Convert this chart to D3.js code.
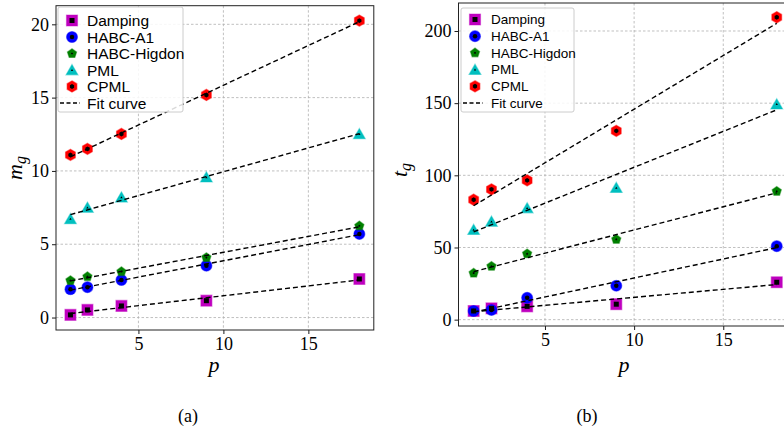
<!DOCTYPE html>
<html>
<head>
<meta charset="utf-8">
<script src="https://cdn.jsdelivr.net/npm/d3@7"></script>
<style>
body { margin: 0; background: #fff; }
svg { font-family: 'Liberation Serif'; }
</style>
</head>
<body>
<svg width="784" height="430"></svg>
<script>
// data
var pValues = [1, 2, 4, 9, 18];
var seriesNames = ["Damping", "HABC-A1", "HABC-Higdon", "PML", "CPML"];

var mgDamping = [0.18, 0.52, 0.79, 1.15, 2.63];
var mgHabcA1 = [1.93, 2.07, 2.56, 3.54, 5.70];
var mgHigdon = [2.52, 2.79, 3.13, 4.09, 6.25];
var mgPml = [6.73, 7.50, 8.20, 9.57, 12.52];
var mgCpml = [11.09, 11.50, 12.52, 15.18, 20.25];

var tgDamping = [6.0, 7.8, 9.2, 10.7, 25.9];
var tgHabcA1 = [6.0, 6.7, 15.1, 23.5, 50.9];
var tgHigdon = [32.2, 37.0, 45.6, 55.6, 88.9];
var tgPml = [62.3, 68.0, 77.3, 91.4, 149.3];
var tgCpml = [83.1, 90.3, 96.5, 130.8, 209.5];

var xTicks = [5, 10, 15];
var mgTicks = [0, 5, 10, 15, 20];
var tgTicks = [0, 50, 100, 150, 200];

var svg = d3.select("svg");

// marker styles per series
var styles = [
  {color: "#bf00bf", shape: "square", outer: 11, inner: 5},
  {color: "#0000ff", shape: "circle", outer: 11, inner: 4.5},
  {color: "#008000", shape: "pentagon", outer: 9, inner: 2},
  {color: "#00bfbf", shape: "triangle", outer: 13, inner: 2.5},
  {color: "#ff0000", shape: "hexagon", outer: 10.5, inner: 4.5}
];

function shapePath(shape, size) {
  var r = size / 2;
  if (shape == "square") return "M" + (-r) + "," + (-r) + "h" + size + "v" + size + "h" + (-size) + "Z";
  if (shape == "circle") return d3.arc()({innerRadius: 0, outerRadius: r, startAngle: 0, endAngle: 2 * Math.PI});
  var n = {pentagon: 5, triangle: 3, hexagon: 6}[shape];
  var rr = shape == "triangle" ? r * 1.05 : r * 1.08;
  var pts = d3.range(n).map(function(i) {
    var a = -Math.PI / 2 + i * 2 * Math.PI / n;
    return [rr * Math.cos(a), rr * Math.sin(a) + (shape == "triangle" ? rr * 0.2 : 0)];
  });
  return "M" + pts.join("L") + "Z";
}

function linFit(xs, ys) {
  var mx = d3.mean(xs), my = d3.mean(ys);
  var sxy = d3.sum(xs, function(x, i) { return (x - mx) * (ys[i] - my); });
  var sxx = d3.sum(xs, function(x) { return (x - mx) * (x - mx); });
  var b = sxy / sxx;
  return function(x) { return my + b * (x - mx); };
}

function serifText(sel, size) {
  return sel.attr("font-family", "Liberation Serif").attr("font-size", size);
}

function drawPanel(cfg) {
  var x = d3.scaleLinear().domain([0.15, 18.85]).range([cfg.left, cfg.right]);
  var y = d3.scaleLinear().domain(cfg.yDomain).range([cfg.bottom, cfg.top]);
  var g = svg.append("g");

  // grid
  g.selectAll(".gx").data(xTicks).enter().append("line")
    .attr("x1", d => x(d)).attr("x2", d => x(d))
    .attr("y1", cfg.top).attr("y2", cfg.bottom)
    .attr("stroke", "#b0b0b0").attr("stroke-width", 0.8).attr("stroke-dasharray", "2.5,2");
  g.selectAll(".gy").data(cfg.yTicks).enter().append("line")
    .attr("x1", cfg.left).attr("x2", cfg.right)
    .attr("y1", d => y(d)).attr("y2", d => y(d))
    .attr("stroke", "#b0b0b0").attr("stroke-width", 0.8).attr("stroke-dasharray", "2.5,2");

  // axes
  var xAxis = g.append("g").attr("transform", "translate(0," + cfg.bottom + ")")
    .call(d3.axisBottom(x).tickValues(xTicks).tickSize(4).tickPadding(3).tickFormat(d3.format("d")));
  var yAxis = g.append("g").attr("transform", "translate(" + cfg.left + ",0)")
    .call(d3.axisLeft(y).tickValues(cfg.yTicks).tickSize(4).tickPadding(3).tickFormat(d3.format("d")));
  [xAxis, yAxis].forEach(function(a) {
    a.attr("font-family", "Liberation Serif").attr("font-size", 18);
    a.select(".domain").remove();
    a.selectAll("text").attr("fill", "#000");
    a.selectAll("line").attr("stroke", "#000").attr("stroke-width", 0.9);
  });

  // frame
  g.append("rect").attr("x", cfg.left).attr("y", cfg.top)
    .attr("width", cfg.right - cfg.left).attr("height", cfg.bottom - cfg.top)
    .attr("fill", "none").attr("stroke", "#222").attr("stroke-width", 1);

  // markers and fits
  cfg.series.forEach(function(vals, si) {
    var st = styles[si];
    var pts = pValues.map(function(p, i) { return [p, vals[i]]; });
    g.append("g").selectAll("path").data(pts).enter().append("path")
      .attr("transform", d => "translate(" + x(d[0]) + "," + y(d[1]) + ")")
      .attr("d", shapePath(st.shape, st.outer))
      .attr("fill", st.color).attr("stroke", st.color).attr("stroke-opacity", 0.45).attr("stroke-width", 1.2);
  });
  cfg.series.forEach(function(vals) {
    var f = linFit(pValues, vals);
    g.append("line")
      .attr("x1", x(1)).attr("y1", y(f(1))).attr("x2", x(18)).attr("y2", y(f(18)))
      .attr("stroke", "#000").attr("stroke-width", 1.4).attr("stroke-dasharray", "5,3");
  });
  cfg.series.forEach(function(vals, si) {
    var st = styles[si];
    var pts = pValues.map(function(p, i) { return [p, vals[i]]; });
    g.append("g").selectAll("path").data(pts).enter().append("path")
      .attr("transform", d => "translate(" + x(d[0]) + "," + y(d[1]) + ")")
      .attr("d", shapePath(st.shape, st.inner))
      .attr("fill", "#000");
  });

  // axis labels
  serifText(g.append("text"), 22).attr("x", cfg.pX).attr("y", 372)
    .attr("text-anchor", "middle").attr("font-style", "italic").text("p");
  var yl = serifText(g.append("text"), 22)
    .attr("transform", "translate(" + cfg.yLabelX + "," + cfg.yLabelY + ") rotate(-90)")
    .attr("text-anchor", "middle").attr("font-style", "italic");
  yl.append("tspan").text(cfg.yLabel);
  yl.append("tspan").attr("font-size", 16).attr("dy", 4).text("g");

  serifText(g.append("text"), 18).attr("x", cfg.capX).attr("y", 422)
    .attr("text-anchor", "middle").text(cfg.caption);

  // legend
  var lg = cfg.legend;
  g.append("rect").attr("x", lg.x).attr("y", lg.y).attr("width", lg.w).attr("height", lg.h)
    .attr("rx", 2).attr("fill", "#fff").attr("fill-opacity", 0.85)
    .attr("stroke", "#cccccc").attr("stroke-width", 1);
  var leg = g.append("g").attr("font-family", "Liberation Sans").attr("font-size", lg.fs);
  seriesNames.forEach(function(name, si) {
    var st = styles[si];
    var cy = lg.row0 + si * lg.step;
    leg.append("path").attr("transform", "translate(" + lg.mx + "," + cy + ")")
      .attr("d", shapePath(st.shape, st.outer)).attr("fill", st.color)
      .attr("stroke", st.color).attr("stroke-opacity", 0.45).attr("stroke-width", 1.2);
    leg.append("path").attr("transform", "translate(" + lg.mx + "," + cy + ")")
      .attr("d", shapePath(st.shape, st.inner)).attr("fill", "#000");
    leg.append("text").attr("x", lg.tx).attr("y", cy).attr("dy", "0.36em").text(name);
  });
  var fy = lg.row0 + 5 * lg.step;
  leg.append("line").attr("x1", lg.mx - 12).attr("x2", lg.mx + 8).attr("y1", fy).attr("y2", fy)
    .attr("stroke", "#000").attr("stroke-width", 1.4).attr("stroke-dasharray", "4,2.5");
  leg.append("text").attr("x", lg.tx).attr("y", fy).attr("dy", "0.36em").text("Fit curve");
}

drawPanel({
  left: 56, right: 373.8, top: 5.7, bottom: 330,
  yDomain: [-0.85, 21.27], yTicks: mgTicks,
  series: [mgDamping, mgHabcA1, mgHigdon, mgPml, mgCpml],
  pX: 214, yLabelX: 22, yLabelY: 168, yLabel: "m", capX: 188, caption: "(a)",
  legend: {x: 58, y: 7, w: 125, h: 105, row0: 20.5, step: 16.5, mx: 72, tx: 87, fs: 15.5}
});

drawPanel({
  left: 458.5, right: 791.9, top: 3, bottom: 326,
  yDomain: [-4.4, 219.4], yTicks: tgTicks,
  series: [tgDamping, tgHabcA1, tgHigdon, tgPml, tgCpml],
  pX: 624, yLabelX: 407, yLabelY: 170, yLabel: "t", capX: 587, caption: "(b)",
  legend: {x: 461, y: 8, w: 113, h: 104, row0: 19.5, step: 16.7, mx: 475, tx: 491, fs: 13.5}
});
</script>
</body>
</html>
